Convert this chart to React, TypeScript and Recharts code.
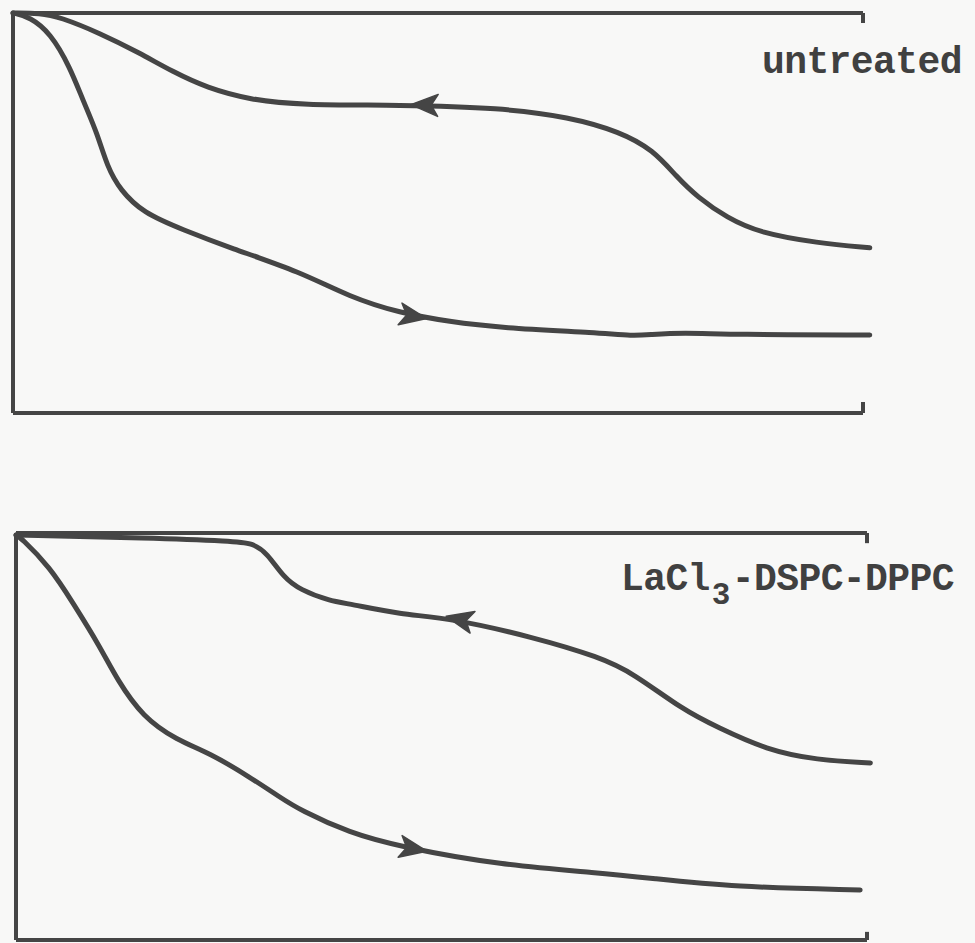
import { ComposedChart, Line, ReferenceLine, Scatter, XAxis, YAxis } from "recharts";

type Pt = { x: number; y: number };
type ArrowPt = Pt & { dir: number };

// x: 0..100 across each frame, y: 0 at frame bottom, 100 at frame top
const untreatedUpper: Pt[] = [
  { x: 0, y: 100 }, { x: 3.2, y: 100 }, { x: 5.5, y: 99 }, { x: 10.2, y: 95 },
  { x: 14.9, y: 90 }, { x: 18.8, y: 85.3 }, { x: 22.8, y: 81.3 }, { x: 27.9, y: 78.3 },
  { x: 33.8, y: 77 }, { x: 45.5, y: 77 }, { x: 57.3, y: 76.3 }, { x: 65.5, y: 74 },
  { x: 71.4, y: 70.3 }, { x: 75.3, y: 65.8 }, { x: 78.1, y: 59 }, { x: 80.5, y: 54 },
  { x: 84, y: 48.8 }, { x: 87.9, y: 45 }, { x: 94.6, y: 42.5 }, { x: 100.8, y: 41.3 },
];

const untreatedLower: Pt[] = [
  { x: 0, y: 100 }, { x: 2, y: 99 }, { x: 4.4, y: 95 }, { x: 6.7, y: 86.5 },
  { x: 8.2, y: 78.3 }, { x: 9.9, y: 70 }, { x: 11.1, y: 61.5 }, { x: 12.6, y: 55.8 },
  { x: 15.3, y: 50 }, { x: 20, y: 45.8 }, { x: 25.5, y: 41.3 }, { x: 33.8, y: 35.3 },
  { x: 39.6, y: 29 }, { x: 45.5, y: 25 }, { x: 51.4, y: 22.8 }, { x: 57.3, y: 21.3 },
  { x: 69.1, y: 20 }, { x: 72.9, y: 19.3 }, { x: 74.9, y: 19.6 }, { x: 78.8, y: 20.1 },
  { x: 84.7, y: 19.6 }, { x: 100.8, y: 19.5 },
];

const lanthanumUpper: Pt[] = [
  { x: 0, y: 99.5 }, { x: 15.7, y: 98.8 }, { x: 25.5, y: 98 }, { x: 27.8, y: 97.5 },
  { x: 29.5, y: 95.1 }, { x: 31.4, y: 89.2 }, { x: 33.4, y: 86 }, { x: 36.9, y: 83.3 },
  { x: 39.2, y: 82.6 }, { x: 45.1, y: 80 }, { x: 51, y: 79.1 }, { x: 60.8, y: 74.4 },
  { x: 68.6, y: 69.5 }, { x: 72.5, y: 65.6 }, { x: 78.4, y: 56.5 }, { x: 82.4, y: 52.3 },
  { x: 88.2, y: 46.7 }, { x: 94.1, y: 44.2 }, { x: 100.4, y: 43.5 },
];

const lanthanumLower: Pt[] = [
  { x: 0, y: 99.5 }, { x: 0.5, y: 99 }, { x: 4, y: 91.6 }, { x: 6.7, y: 82.8 },
  { x: 9.9, y: 72 }, { x: 11.9, y: 63.9 }, { x: 14.9, y: 54.8 }, { x: 18.9, y: 49.1 },
  { x: 22.8, y: 45.9 }, { x: 27.5, y: 40 }, { x: 31, y: 35.1 }, { x: 33.4, y: 31.9 },
  { x: 39.2, y: 26.3 }, { x: 45.1, y: 22.9 }, { x: 56.9, y: 18.4 }, { x: 68.6, y: 16.5 },
  { x: 74.5, y: 15.2 }, { x: 84.3, y: 13 }, { x: 99.2, y: 12.3 },
];

// arrowheads: dir -1 points left (return branch), +1 points right
const untreatedUpperArrow: ArrowPt[] = [{ x: 48.4, y: 77, dir: -1 }];
const untreatedLowerArrow: ArrowPt[] = [{ x: 47.1, y: 24.2, dir: 1 }];
const lanthanumUpperArrow: ArrowPt[] = [{ x: 52.1, y: 78.8, dir: -1 }];
const lanthanumLowerArrow: ArrowPt[] = [{ x: 46.7, y: 22.4, dir: 1 }];

const INK = "#454545";
const X_MAX = 102;

function slopeAt(curve: Pt[], x: number) {
  for (let i = 0; i < curve.length - 1; i++) {
    const a = curve[i];
    const b = curve[i + 1];
    if (x >= a.x && x <= b.x) return (b.y - a.y) / (b.x - a.x);
  }
  return 0;
}

function makeArrow(curve: Pt[], pxX: number, pxY: number) {
  return (props: any) => {
    const { cx, cy, payload } = props;
    const s = slopeAt(curve, payload.x);
    let angle = (Math.atan2(-s * pxY, pxX) * 180) / Math.PI;
    if (payload.dir < 0) angle += 180;
    const L = 27;
    const w = 11;
    const d = `M ${L / 2} 0 L ${-L / 2} ${-w} L ${-L / 4} 0 L ${-L / 2} ${w} Z`;
    return (
      <path
        d={d}
        fill={INK}
        stroke={INK}
        strokeWidth={1.5}
        strokeLinejoin="round"
        transform={`translate(${cx},${cy}) rotate(${angle})`}
      />
    );
  };
}

interface PanelProps {
  top: number;
  height: number;
  margin: { top: number; left: number; right: number; bottom: number };
  upper: Pt[];
  lower: Pt[];
  upperArrow: ArrowPt[];
  lowerArrow: ArrowPt[];
  tickTop: number;
  tickBottom: number;
}

function Panel({ top, height, margin, upper, lower, upperArrow, lowerArrow, tickTop, tickBottom }: PanelProps) {
  const width = 975;
  const pxX = (width - margin.left - margin.right) / X_MAX;
  const pxY = (height - margin.top - margin.bottom) / 100;
  const frame = { stroke: INK, strokeWidth: 4 };
  const curve = {
    type: "basis" as const,
    stroke: INK,
    strokeWidth: 5,
    strokeLinecap: "round" as const,
    dot: false,
    activeDot: false,
    isAnimationActive: false,
  };
  return (
    <div style={{ position: "absolute", left: 0, top }}>
      <ComposedChart width={width} height={height} margin={margin}>
        <XAxis type="number" dataKey="x" domain={[0, X_MAX]} hide />
        <YAxis type="number" dataKey="y" domain={[0, 100]} hide />
        <ReferenceLine segment={[{ x: 0, y: 100 }, { x: 100, y: 100 }]} {...frame} />
        <ReferenceLine segment={[{ x: 0, y: 0 }, { x: 100, y: 0 }]} {...frame} />
        <ReferenceLine segment={[{ x: 0, y: 0 }, { x: 0, y: 100 }]} {...frame} />
        <ReferenceLine segment={[{ x: 100, y: 100 }, { x: 100, y: 100 - tickTop }]} {...frame} />
        <ReferenceLine segment={[{ x: 100, y: 0 }, { x: 100, y: tickBottom }]} {...frame} />
        <Line data={upper} dataKey="y" {...curve} />
        <Line data={lower} dataKey="y" {...curve} />
        <Scatter data={upperArrow} dataKey="y" shape={makeArrow(upper, pxX, pxY)} isAnimationActive={false} />
        <Scatter data={lowerArrow} dataKey="y" shape={makeArrow(lower, pxX, pxY)} isAnimationActive={false} />
      </ComposedChart>
    </div>
  );
}

export default function App() {
  const label = {
    fontFamily: "'Courier New', 'Liberation Mono', monospace",
    fontSize: 38,
    fontWeight: 700,
    fill: "#404040",
  } as const;
  return (
    <div style={{ position: "absolute", left: 0, top: 0, width: 975, height: 943, background: "#f8f8f7", overflow: "hidden" }}>
      <Panel
        top={0}
        height={470}
        margin={{ top: 13, left: 13, right: 95, bottom: 57 }}
        upper={untreatedUpper}
        lower={untreatedLower}
        upperArrow={untreatedUpperArrow}
        lowerArrow={untreatedLowerArrow}
        tickTop={2.5}
        tickBottom={2.75}
      />
      <Panel
        top={480}
        height={463}
        margin={{ top: 53, left: 16, right: 91, bottom: 3 }}
        upper={lanthanumUpper}
        lower={lanthanumLower}
        upperArrow={lanthanumUpperArrow}
        lowerArrow={lanthanumLowerArrow}
        tickTop={2.5}
        tickBottom={2}
      />
      <svg width={975} height={943} style={{ position: "absolute", left: 0, top: 0, pointerEvents: "none" }}>
        <text x={762} y={73} letterSpacing={-0.6} {...label}>untreated</text>
        <text x={621} y={590} letterSpacing={-0.6} {...label}>
          LaCl
          <tspan dy={14} dx={2} fontSize={31}>3</tspan>
          <tspan dy={-14} dx={2}>-DSPC-DPPC</tspan>
        </text>
      </svg>
    </div>
  );
}
